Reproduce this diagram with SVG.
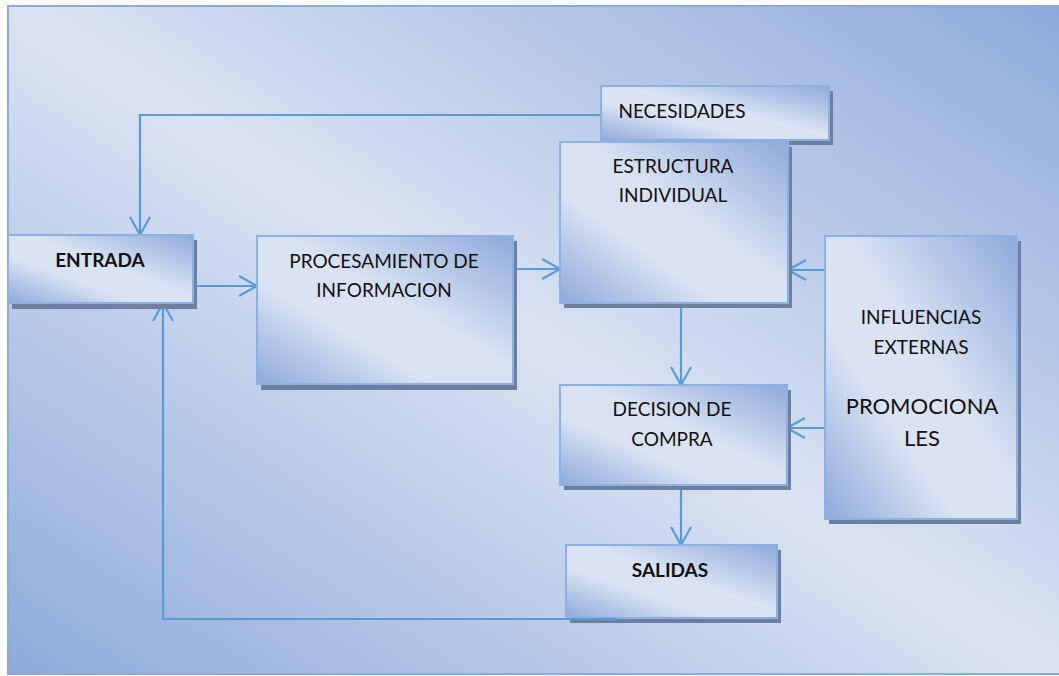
<svg xmlns="http://www.w3.org/2000/svg" width="1059" height="676" viewBox="0 0 1059 676">
  <defs>
    <!-- page backdrop: blue corners top-right and bottom-left, pale diagonal in between -->
    <linearGradient id="bgGrad" x1="1" y1="0" x2="0" y2="1">
      <stop offset="0" stop-color="#8eaadb"/>
      <stop offset="0.5" stop-color="#dae3f3"/>
      <stop offset="1" stop-color="#8eaadb"/>
    </linearGradient>
    <!-- box fill: blue at top-right, pale band, blue-ish at bottom-left -->
    <linearGradient id="boxGrad" x1="1" y1="0" x2="0" y2="1">
      <stop offset="0" stop-color="#8eaadb"/>
      <stop offset="0.45" stop-color="#dae3f3"/>
      <stop offset="0.65" stop-color="#dae3f3"/>
      <stop offset="1" stop-color="#8eaadb"/>
    </linearGradient>
    <marker id="arrow" markerUnits="userSpaceOnUse" markerWidth="24" markerHeight="24" viewBox="-20 -12 24 24" refX="0" refY="0" orient="auto">
      <path d="M-18,-10 L0,0 L-18,10" fill="none" stroke="#5b9bd5" stroke-width="2.2"/>
    </marker>
    <style>
      .shadow { fill: #6f7fa0; }
      .box { fill: url(#boxGrad); stroke: #8db0e2; stroke-width: 2; }
      .lbl { font-family: Lato, "Liberation Sans", sans-serif; font-size: 19px; fill: #111; text-anchor: middle; }
      .bold { font-weight: bold; }
      .big { font-size: 22px; }
      .conn { fill: none; stroke: #5b9bd5; stroke-width: 2.2; }
    </style>
  </defs>

  <!-- backdrop -->
  <rect x="8" y="6" width="1052" height="668" fill="url(#bgGrad)" stroke="#8eaadb" stroke-width="2"/>

  <!-- connectors -->
  <g id="connectors">
    <path class="conn" d="M601,115 H140 V235" marker-end="url(#arrow)"/>
    <path class="conn" d="M193,286 H257" marker-end="url(#arrow)"/>
    <path class="conn" d="M513,269 H560" marker-end="url(#arrow)"/>
    <path class="conn" d="M825,270 H788" marker-end="url(#arrow)"/>
    <path class="conn" d="M825,428 H787" marker-end="url(#arrow)"/>
    <path class="conn" d="M681,303 V385" marker-end="url(#arrow)"/>
    <path class="conn" d="M681,485 V545" marker-end="url(#arrow)"/>
    <path class="conn" d="M617,619 H163 V303" marker-end="url(#arrow)"/>
  </g>

  <g id="entrada">
    <rect class="shadow" x="12" y="240" width="185" height="69"/>
    <rect class="box" x="8" y="235" width="185" height="68"/>
    <text class="lbl bold" x="100" y="267">ENTRADA</text>
  </g>

  <g id="procesamiento">
    <rect class="shadow" x="261" y="241" width="256" height="149"/>
    <rect class="box" x="257" y="236" width="256" height="148"/>
    <text class="lbl" x="384" y="268">PROCESAMIENTO DE</text>
    <text class="lbl" x="384" y="297">INFORMACION</text>
  </g>

  <g id="necesidades">
    <rect class="shadow" x="605" y="91" width="228" height="54"/>
    <rect class="box" x="601" y="86" width="228" height="54"/>
    <text class="lbl" x="682" y="118">NECESIDADES</text>
  </g>

  <g id="estructura">
    <rect class="shadow" x="564" y="147" width="228" height="161"/>
    <rect class="box" x="560" y="142" width="228" height="161"/>
    <text class="lbl" x="673" y="173">ESTRUCTURA</text>
    <text class="lbl" x="673" y="202">INDIVIDUAL</text>
  </g>

  <g id="influencias">
    <rect class="shadow" x="829" y="241" width="192" height="283"/>
    <rect class="box" x="825" y="236" width="192" height="283"/>
    <text class="lbl" x="921" y="324">INFLUENCIAS</text>
    <text class="lbl" x="921" y="354">EXTERNAS</text>
    <text class="lbl big" x="922" y="414">PROMOCIONA</text>
    <text class="lbl big" x="922" y="446">LES</text>
  </g>

  <g id="decision">
    <rect class="shadow" x="564" y="390" width="227" height="100"/>
    <rect class="box" x="560" y="385" width="227" height="100"/>
    <text class="lbl" x="672" y="416">DECISION DE</text>
    <text class="lbl" x="672" y="446">COMPRA</text>
  </g>

  <g id="salidas">
    <rect class="shadow" x="570" y="550" width="211" height="73"/>
    <rect class="box" x="566" y="545" width="211" height="73"/>
    <text class="lbl bold" x="670" y="577">SALIDAS</text>
    <path class="conn" d="M566,619 H617"/>
  </g>
</svg>
